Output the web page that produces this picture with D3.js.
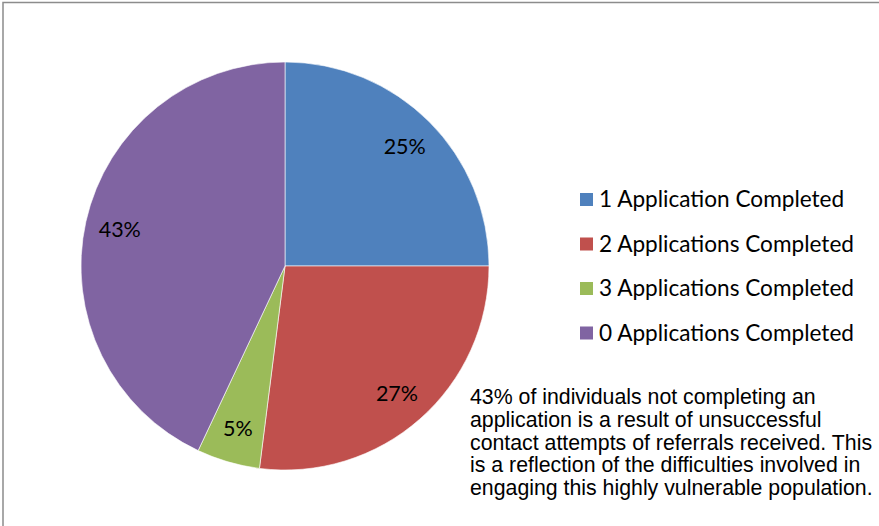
<!DOCTYPE html>
<html>
<head>
<meta charset="utf-8">
<script src="https://cdn.jsdelivr.net/npm/d3@7"></script>
<style>
  body { margin: 0; background: #fff; }
</style>
</head>
<body>
<div id="chart"></div>
<script>
const categories = ["1 Application Completed", "2 Applications Completed", "3 Applications Completed", "0 Applications Completed"];
const values = [25, 27, 5, 43];
const colors = ["#4F81BD", "#C0504D", "#9BBB59", "#8064A2"];
const note = [
  "43% of individuals not completing an",
  "application is a result of unsuccessful",
  "contact attempts of referrals received. This",
  "is a reflection of the difficulties involved in",
  "engaging this highly vulnerable population."
];

const W = 879, H = 526;
const cx = 285, cy = 266, radius = 204;

const svg = d3.select("#chart")
  .append("svg")
  .attr("width", W)
  .attr("height", H);

// outer frame
svg.append("rect")
  .attr("x", 3).attr("y", 2.5)
  .attr("width", W + 10).attr("height", H + 10)
  .attr("fill", "none")
  .attr("stroke", "#8c8c8c")
  .attr("stroke-width", 1.5);

const colorScale = d3.scaleOrdinal().domain(categories).range(colors);

const pie = d3.pie().sort(null).value(d => d.value);
const data = categories.map((c, i) => ({ name: c, value: values[i] }));
const arcs = pie(data);

const arc = d3.arc().innerRadius(0).outerRadius(radius);
const labelArc = d3.arc().innerRadius(radius * 0.83).outerRadius(radius * 0.83);

const g = svg.append("g").attr("transform", `translate(${cx},${cy})`);

g.selectAll("path")
  .data(arcs)
  .enter()
  .append("path")
  .attr("d", arc)
  .attr("fill", d => colorScale(d.data.name))
  .attr("stroke", "#fff")
  .attr("stroke-width", 0.6);

g.selectAll("text.lbl")
  .data(arcs)
  .enter()
  .append("text")
  .attr("class", "lbl")
  .attr("transform", d => `translate(${labelArc.centroid(d)})`)
  .attr("text-anchor", "middle")
  .attr("dy", "0.35em")
  .attr("font-family", "Lato, sans-serif")
  .attr("font-size", 21.5)
  .attr("fill", "#000")
  .text(d => d.data.value + "%");

// legend
const legend = svg.append("g").attr("transform", "translate(580,199)");
const item = legend.selectAll("g")
  .data(categories)
  .enter()
  .append("g")
  .attr("transform", (d, i) => `translate(0,${i * 44.5})`);

item.append("rect")
  .attr("x", 0).attr("y", -6)
  .attr("width", 13).attr("height", 13)
  .attr("fill", d => colorScale(d));

item.append("text")
  .attr("x", 19)
  .attr("dy", "0.36em")
  .attr("font-family", "Lato, sans-serif")
  .attr("font-size", 22.6)
  .attr("fill", "#000")
  .text(d => d);

// annotation
svg.append("text")
  .attr("font-family", "'Liberation Sans', Arial, sans-serif")
  .attr("font-size", 21.3)
  .attr("fill", "#000")
  .selectAll("tspan")
  .data(note)
  .enter()
  .append("tspan")
  .attr("x", 470)
  .attr("y", (d, i) => 404 + i * 22.8)
  .text(d => d);
</script>
</body>
</html>
